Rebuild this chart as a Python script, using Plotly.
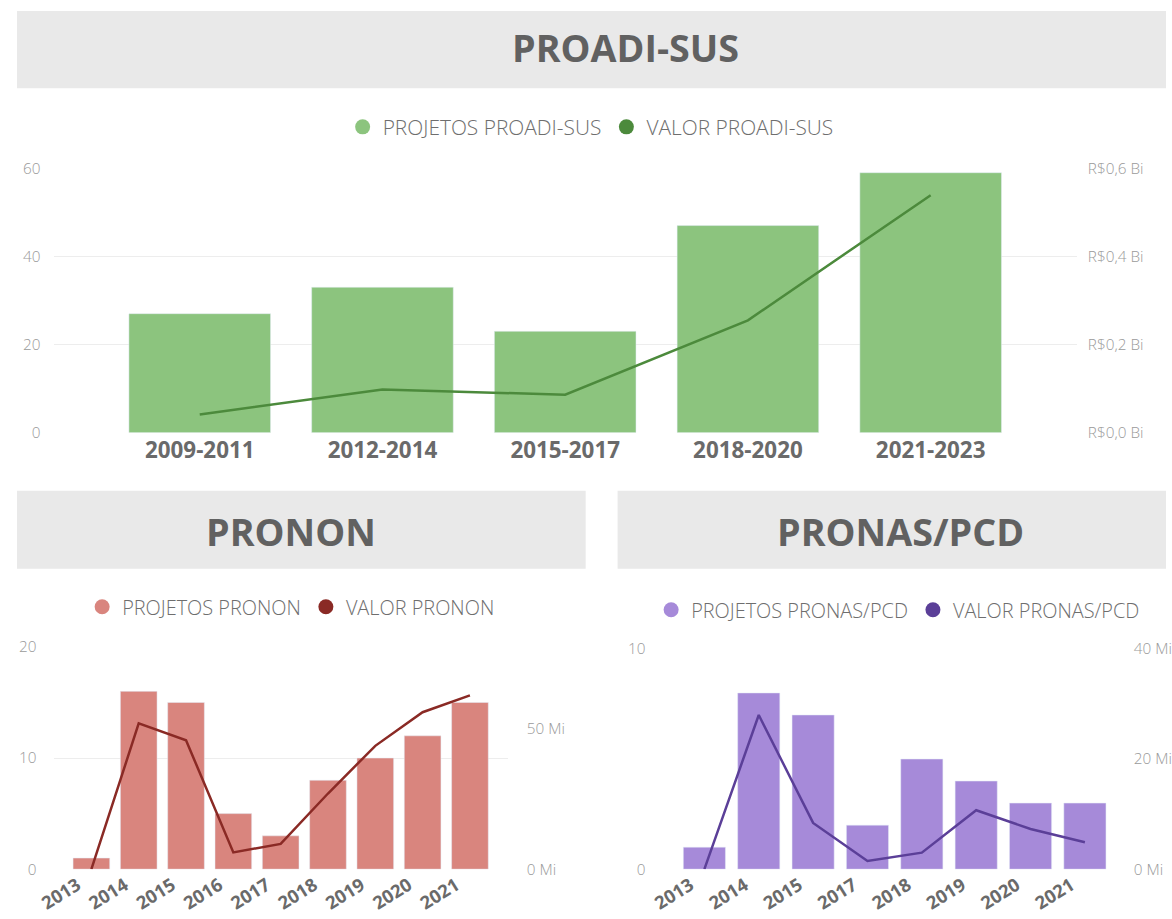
import plotly.graph_objects as go

# ---------------- data ----------------
proadi_periods = ["2009-2011", "2012-2014", "2015-2017", "2018-2020", "2021-2023"]
proadi_projetos = [27, 33, 23, 47, 59]
proadi_valor_bi = [0.041, 0.098, 0.086, 0.255, 0.539]

pronon_years = ["2013", "2014", "2015", "2016", "2017", "2018", "2019", "2020", "2021"]
pronon_projetos = [1, 16, 15, 5, 3, 8, 10, 12, 15]
pronon_valor_mi = [0, 52, 46, 6, 9, 27, 44, 56, 62]

pronas_years = ["2013", "2014", "2015", "2017", "2018", "2019", "2020", "2021"]
pronas_projetos = [1, 8, 7, 2, 5, 4, 3, 3]
pronas_valor_mi = [0, 28, 8.4, 1.5, 3, 10.7, 7.3, 4.9]

# ---------------- styling ----------------
W, H = 1172, 919
FONT = "Open Sans"
GREEN_BAR, GREEN_LINE = "#8cc47e", "#4c8a3c"
RED_BAR, RED_LINE = "#d9857e", "#8a2a25"
PURPLE_BAR, PURPLE_LINE = "#a68ad9", "#5b3f98"
BAND = "#e9e9e9"
TITLE_C = "#616161"
TICK_C = "#9a9a9a"
CAT_C = "#6a6a6a"
GRID_C = "#ededed"
LEG_C = "#6e6e6e"

# layout positions are written in target-picture pixels, then mapped to the page
SX, OX = 0.982, 18.4
SY, OY = 0.977, 10.9


def px(x):
    v = ((x - OX) / SX) / W
    return min(max(v, 0.0), 1.0)


def py(y):
    v = 1 - ((y - OY) / SY) / H
    return min(max(v, 0.0), 1.0)


def fs(s):
    return round(s / SX, 1)


fig = go.Figure()

# ---- top chart ----
fig.add_trace(go.Bar(x=proadi_periods, y=proadi_projetos, marker_color=GREEN_BAR,
                     xaxis="x", yaxis="y", showlegend=False, name="PROJETOS PROADI-SUS"))
fig.add_trace(go.Scatter(x=proadi_periods, y=proadi_valor_bi, mode="lines",
                         line=dict(color=GREEN_LINE, width=2.5),
                         xaxis="x", yaxis="y2", showlegend=False, name="VALOR PROADI-SUS"))

# ---- bottom left ----
fig.add_trace(go.Bar(x=pronon_years, y=pronon_projetos, marker_color=RED_BAR,
                     xaxis="x2", yaxis="y3", showlegend=False, name="PROJETOS PRONON"))
fig.add_trace(go.Scatter(x=pronon_years, y=pronon_valor_mi, mode="lines",
                         line=dict(color=RED_LINE, width=2.5),
                         xaxis="x2", yaxis="y4", showlegend=False, name="VALOR PRONON"))

# ---- bottom right ----
fig.add_trace(go.Bar(x=pronas_years, y=pronas_projetos, marker_color=PURPLE_BAR,
                     xaxis="x3", yaxis="y5", showlegend=False, name="PROJETOS PRONAS/PCD"))
fig.add_trace(go.Scatter(x=pronas_years, y=pronas_valor_mi, mode="lines",
                         line=dict(color=PURPLE_LINE, width=2.5),
                         xaxis="x3", yaxis="y6", showlegend=False, name="VALOR PRONAS/PCD"))

# ---- legend entries (circle markers) ----
legend_items = [
    ("PROJETOS PROADI-SUS", GREEN_BAR, "legend"),
    ("VALOR PROADI-SUS", GREEN_LINE, "legend"),
    ("PROJETOS PRONON", RED_BAR, "legend2"),
    ("VALOR PRONON", RED_LINE, "legend2"),
    ("PROJETOS PRONAS/PCD", PURPLE_BAR, "legend3"),
    ("VALOR PRONAS/PCD", PURPLE_LINE, "legend3"),
]
for name, color, lg in legend_items:
    fig.add_trace(go.Scatter(x=[None], y=[None], mode="markers", name=name,
                             marker=dict(symbol="circle", size=15, color=color),
                             legend=lg, showlegend=True, xaxis="x", yaxis="y"))

tickfont = dict(family=FONT, size=fs(15), color=TICK_C, weight=300)
catfont = dict(family=FONT, size=fs(22), color=CAT_C, weight="bold")
yearfont = dict(family=FONT, size=fs(18), color=CAT_C, weight="bold")
legfont = dict(family=FONT, size=fs(20.5), color=LEG_C, weight=300)
legfont_small = dict(family=FONT, size=fs(19.5), color=LEG_C, weight=300)

layout = dict(
    width=W, height=H,
    margin=dict(l=0, r=0, t=0, b=0),
    paper_bgcolor="white", plot_bgcolor="white",
    bargap=0.225,
    font=dict(family=FONT, color=TICK_C),
    # top
    xaxis=dict(domain=[px(55), px(1080)], anchor="y", type="category",
               range=[-0.8, 4.8], showgrid=False, zeroline=False, showline=False,
               ticks="", tickfont=catfont, ticklabelstandoff=2),
    yaxis=dict(domain=[py(432), py(168)], anchor="x", range=[0, 60],
               tickvals=[0, 20, 40, 60], showgrid=True, gridcolor=GRID_C, gridwidth=1,
               zeroline=False, showline=False, ticks="", tickfont=tickfont,
               ticklabelstandoff=12),
    yaxis2=dict(overlaying="y", side="right", anchor="x", range=[0, 0.6],
                tickvals=[0, 0.2, 0.4, 0.6],
                ticktext=["R$0,0 Bi", "R$0,2 Bi", "R$0,4 Bi", "R$0,6 Bi"],
                showgrid=False, zeroline=False, showline=False, ticks="",
                tickfont=tickfont, ticklabelstandoff=10),
    # bottom left
    xaxis2=dict(domain=[px(55), px(510)], anchor="y3", type="category",
                range=[-0.8, 8.8], showgrid=False, zeroline=False, showline=False,
                ticks="", tickangle=-32, tickfont=yearfont, ticklabelstandoff=1,
                ticklabelshift=-14),
    yaxis3=dict(domain=[py(868), py(646)], anchor="x2", range=[0, 20],
                tickvals=[0, 10, 20], showgrid=True, gridcolor=GRID_C,
                zeroline=False, showline=False, ticks="", tickfont=tickfont,
                ticklabelstandoff=16),
    yaxis4=dict(overlaying="y3", side="right", anchor="x2", range=[0, 79.3],
                tickvals=[0, 50], ticktext=["0 Mi", "50 Mi"],
                showgrid=False, zeroline=False, showline=False, ticks="",
                tickfont=tickfont, ticklabelstandoff=18),
    # bottom right
    xaxis3=dict(domain=[px(665), px(1130)], anchor="y5", type="category",
                range=[-0.77, 7.77], showgrid=False, zeroline=False, showline=False,
                ticks="", tickangle=-32, tickfont=yearfont, ticklabelstandoff=1,
                ticklabelshift=-14),
    yaxis5=dict(domain=[py(868), py(648)], anchor="x3", range=[0, 10],
                tickvals=[0, 10], showgrid=True, gridcolor=GRID_C,
                zeroline=False, showline=False, ticks="", tickfont=tickfont,
                ticklabelstandoff=16),
    yaxis6=dict(overlaying="y5", side="right", anchor="x3", range=[0, 40],
                tickvals=[0, 20, 40], ticktext=["0 Mi", "20 Mi", "40 Mi"],
                showgrid=False, zeroline=False, showline=False, ticks="",
                tickfont=tickfont, ticklabelstandoff=6),
    legend=dict(orientation="h", x=px(593), y=py(127), xanchor="center", yanchor="middle",
                font=legfont, itemwidth=30, bgcolor="rgba(0,0,0,0)"),
    legend2=dict(orientation="h", x=px(293), y=py(606), xanchor="center", yanchor="middle",
                 font=legfont_small, itemwidth=30, bgcolor="rgba(0,0,0,0)"),
    legend3=dict(orientation="h", x=px(901), y=py(609), xanchor="center", yanchor="middle",
                 font=legfont_small, itemwidth=30, bgcolor="rgba(0,0,0,0)"),
)
fig.update_layout(**layout)

# title bands
bands = [
    (9, 1172, 10, 88, "PROADI-SUS", 628, 47),
    (5, 588, 490, 568, "PRONON", 293, 531),
    (620, 1172, 490, 568, "PRONAS/PCD", 903, 531),
]
for x0, x1, y0, y1, text, tx, ty in bands:
    fig.add_shape(type="rect", xref="paper", yref="paper",
                  x0=px(x0), x1=1.0 if x1 >= W else px(x1), y0=py(y1), y1=py(y0),
                  fillcolor=BAND, line=dict(width=0), layer="below")
    fig.add_annotation(xref="paper", yref="paper", x=px(tx), y=py(ty),
                       text=f"<b>{text}</b>", showarrow=False,
                       xanchor="center", yanchor="middle",
                       font=dict(family=FONT, size=fs(37), color=TITLE_C))

fig.write_html(
    "out.html",
    config={"displayModeBar": False, "staticPlot": True},
    post_script=("document.documentElement.style.margin='0';"
                 "document.body.style.margin='0';"
                 "document.body.style.overflow='hidden';"),
)
